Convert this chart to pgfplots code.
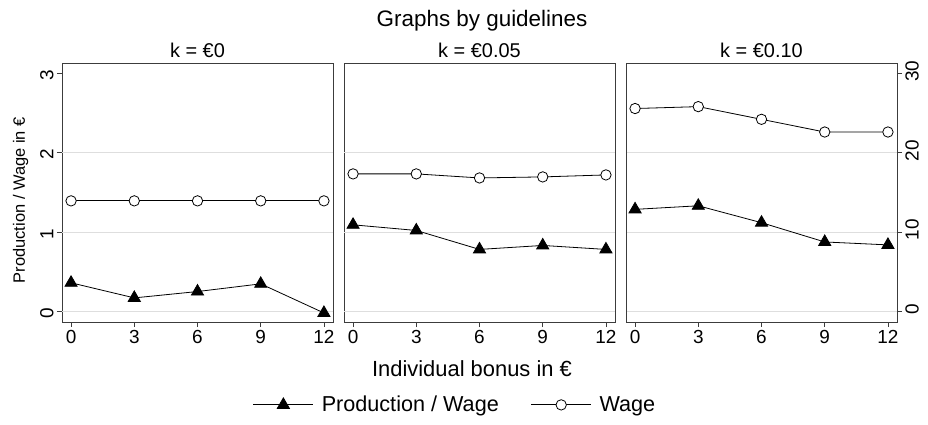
\documentclass[border=0pt]{standalone}
\usepackage{pgfplots}
\pgfplotsset{compat=1.18}
\usepackage{fontspec}
\setmainfont{Liberation Sans}

\definecolor{gridgray}{RGB}{222,222,222}
\definecolor{framegray}{RGB}{60,60,60}

\pgfplotsset{
  panel/.style={
    scale only axis, width=271bp, height=259bp, anchor=south west,
    xmin=-0.43, xmax=12.43, clip=false,
    axis line style={framegray, line width=0.9bp},
    tick style={framegray, line width=0.8bp},
    tick align=outside, major tick length=5bp,
    xtick={0,3,6,9,12}, xtick pos=bottom,
    ticklabel style={font=\fontsize{19}{21}\selectfont},
    /pgf/number format/assume math mode=true,
    title style={at={(0.5,1)}, anchor=base, yshift=0bp, font=\fontsize{20}{22}\selectfont},
  },
  prodaxis/.style={panel, ymin=-0.135, ymax=3.13,
    extra y ticks={0,1,2}, extra y tick labels={},
    extra y tick style={major tick length=0pt, grid=major,
      major grid style={gridgray, line width=0.9bp}},
  },
  wageaxis/.style={panel, ymin=-1.35, ymax=31.3},
  prod/.style={black, line width=0.8bp, mark=triangle*, mark size=7bp,
    mark options={fill=black, solid}},
  wage/.style={black, line width=0.8bp, mark=*, mark size=5.2bp,
    mark options={fill=white, draw=black, line width=0.8bp, solid}},
}

\begin{document}
\begin{tikzpicture}
\useasboundingbox (0,0) rectangle (928bp,425bp);

% panel 1: k = 0
\begin{axis}[prodaxis, at={(62bp,103bp)}, title={k = €0},
  ytick={0,1,2,3}, ytick pos=left,
  yticklabel style={rotate=90, anchor=south, xshift=-2bp},
  ylabel={Production / Wage in €},
  ylabel style={font=\fontsize{16.5}{18}\selectfont, anchor=south},
  every axis y label/.append style={at={(ticklabel cs:0.47)}},
]
\addplot[prod] coordinates {(0,0.359) (3,0.169) (6,0.249) (9,0.346) (12,-0.021)};
\end{axis}
\begin{axis}[wageaxis, at={(62bp,103bp)}, hide axis]
\addplot[wage] coordinates {(0,13.92) (3,13.92) (6,13.92) (9,13.92) (12,13.92)};
\end{axis}

% panel 2: k = 0.05
\begin{axis}[prodaxis, at={(344bp,103bp)}, title={k = €0.05}, ytick=\empty,
  legend columns=2,
  legend style={at={(0.41,-0.32)}, anchor=center, draw=none, fill=none,
    font=\fontsize{21.7}{24}\selectfont,
    /tikz/every odd column/.append style={column sep=6bp},
    /tikz/every even column/.append style={column sep=30bp}},
  legend image code/.code={
    \draw[mark repeat=2, mark phase=2, #1] plot coordinates {(0bp,0bp) (30bp,0bp) (60bp,0bp)};},
]
\addplot[prod] coordinates {(0,1.090) (3,1.019) (6,0.780) (9,0.830) (12,0.780)};
\addlegendentry{Production / Wage}
\addlegendimage{wage}
\addlegendentry{Wage}
\end{axis}
\begin{axis}[wageaxis, at={(344bp,103bp)}, hide axis]
\addplot[wage] coordinates {(0,17.32) (3,17.32) (6,16.81) (9,16.94) (12,17.19)};
\end{axis}

% panel 3: k = 0.10
\begin{axis}[prodaxis, at={(626bp,103bp)}, title={k = €0.10}, ytick=\empty]
\addplot[prod] coordinates {(0,1.285) (3,1.330) (6,1.117) (9,0.874) (12,0.837)};
\end{axis}
\begin{axis}[wageaxis, at={(626bp,103bp)}, axis x line=none,
  ytick={0,10,20,30}, ytick pos=right, yticklabel pos=right,
  yticklabel style={rotate=90, anchor=north, xshift=2bp},
]
\addplot[wage] coordinates {(0,25.56) (3,25.80) (6,24.20) (9,22.60) (12,22.60)};
\end{axis}

\node[anchor=base, font=\fontsize{22.5}{24}\selectfont] at (482bp,398bp) {Graphs by guidelines};
\node[anchor=base, font=\fontsize{22}{24}\selectfont] at (472bp,48bp) {Individual bonus in €};
\end{tikzpicture}
\end{document}
